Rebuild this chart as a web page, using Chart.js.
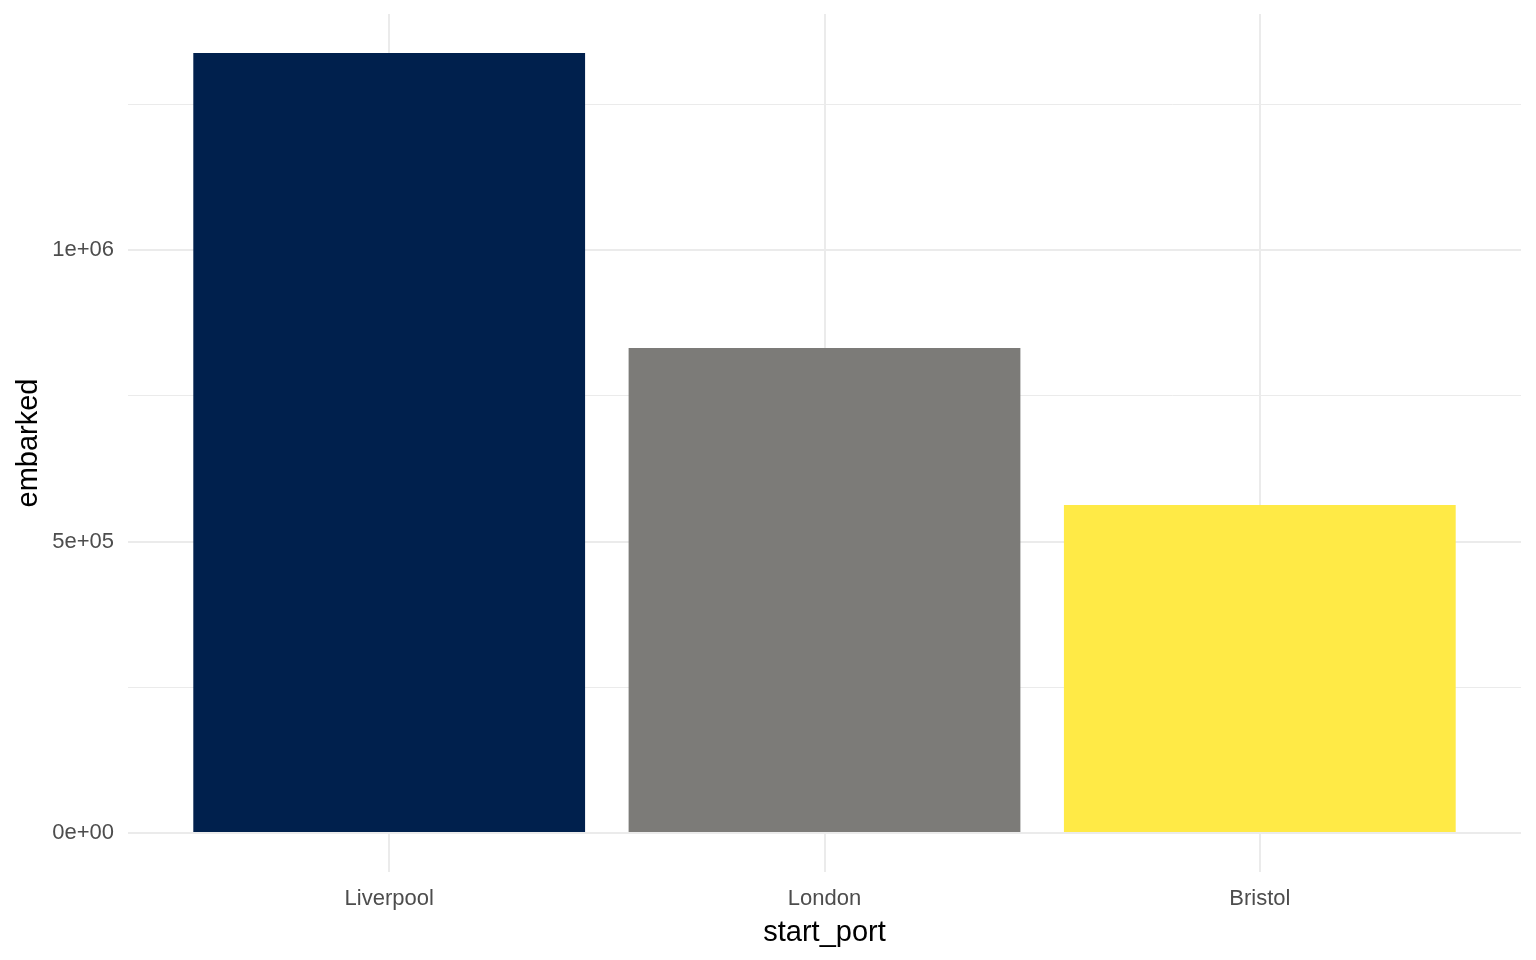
<!DOCTYPE html>
<html>
<head>
<meta charset="utf-8">
<script src="https://cdn.jsdelivr.net/npm/chart.js@4/dist/chart.umd.min.js"></script>
<style>
  html, body { margin: 0; padding: 0; background: #fff; }
  #wrap { width: 1536px; height: 960px; }
</style>
</head>
<body>
<div id="wrap"><canvas id="chart"></canvas></div>
<script>
const ports = ["Liverpool", "London", "Bristol"]
const embarked = [1338000, 832000, 562500]
const barColors = ["#00204D", "#7C7B78", "#FFEA46"]
const yTicks = [0, 250000, 500000, 750000, 1000000, 1250000]
const yLabels = { 0: "0e+00", 500000: "5e+05", 1000000: "1e+06" }

const gridColor = "#EBEBEB"
const maxVal = Math.max(...embarked)
const yMin = -0.05 * maxVal
const yMax = maxVal * 1.05

const ctx = document.getElementById("chart")

new Chart(ctx, {
  type: "bar",
  data: {
    datasets: [
      {
        data: ports.map((p, i) => ({ x: i + 1, y: embarked[i] })),
        backgroundColor: barColors,
        borderWidth: 0,
        barPercentage: 0.9,
        categoryPercentage: 1.0,
      },
    ],
  },
  options: {
    responsive: true,
    maintainAspectRatio: false,
    animation: false,
    layout: { padding: { top: 14, right: 15, left: 0, bottom: 0 } },
    plugins: {
      legend: { display: false },
      tooltip: { enabled: false },
    },
    scales: {
      x: {
        type: "linear",
        min: 0.4,
        max: ports.length + 0.6,
        offset: false,
        afterBuildTicks: (axis) => {
          axis.ticks = ports.map((p, i) => ({ value: i + 1 }))
        },
        afterFit: (axis) => {
          axis.height = 88
          axis.paddingLeft = 0
          axis.paddingRight = 0
        },
        ticks: {
          callback: (v) => ports[v - 1] || "",
          color: "#4D4D4D",
          font: { family: "Liberation Sans", size: 22 },
          padding: 14,
          maxRotation: 0,
          autoSkip: false,
        },
        grid: {
          color: gridColor,
          lineWidth: 2,
          drawTicks: false,
          offset: false,
        },
        border: { display: false },
        title: {
          display: true,
          text: "start_port",
          color: "#000000",
          font: { family: "Liberation Sans", size: 29 },
          padding: { top: 0, bottom: 10 },
        },
      },
      y: {
        type: "linear",
        min: yMin,
        max: yMax,
        afterBuildTicks: (axis) => {
          axis.ticks = yTicks.map((v) => ({ value: v }))
        },
        afterFit: (axis) => {
          axis.width = 128
          axis.paddingTop = 0
          axis.paddingBottom = 0
        },
        ticks: {
          callback: (v) => (yLabels[v] !== undefined ? yLabels[v] : ""),
          color: "#4D4D4D",
          font: { family: "Liberation Sans", size: 22 },
          padding: 14,
          autoSkip: false,
        },
        grid: {
          color: gridColor,
          lineWidth: (c) => (c.tick && c.tick.value % 500000 === 0 ? 2 : 1),
          drawTicks: false,
        },
        border: { display: false },
        title: {
          display: true,
          text: "embarked",
          color: "#000000",
          font: { family: "Liberation Sans", size: 29 },
          padding: { top: 12, bottom: 0 },
        },
      },
    },
  },
})
</script>
</body>
</html>
